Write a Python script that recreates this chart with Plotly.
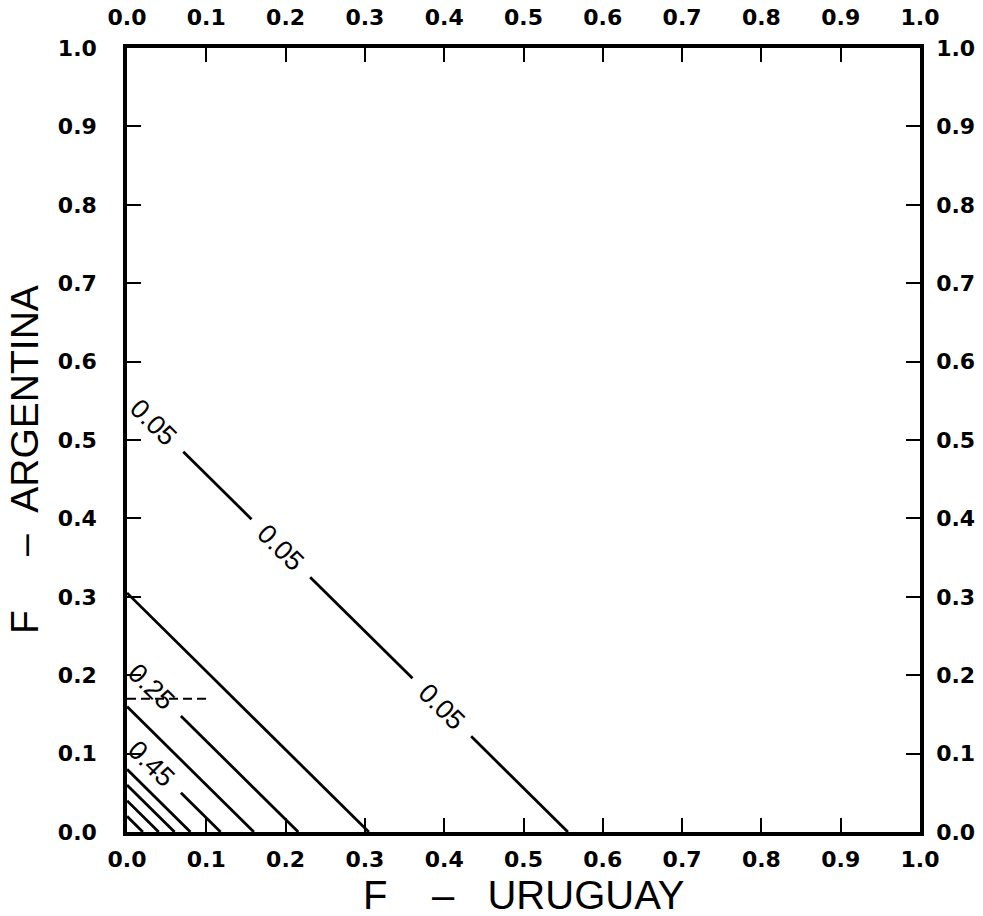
import plotly.graph_objects as go

# ---- data ----
levels = [0.05, 0.15, 0.25, 0.35, 0.45, 0.55, 0.65, 0.75, 0.85]
intercepts = [0.556, 0.305, 0.216, 0.160, 0.118, 0.080, 0.060, 0.040, 0.020]  # x+y = s for each contour
label_x = {0.05: [0.034, 0.194, 0.397], 0.25: [0.031], 0.45: [0.031]}  # label centres (x) along lines
label_text = {0.05: "0.05", 0.25: "0.25", 0.45: "0.45"}
dash_x = [0.0, 0.104]
dash_y = [0.17, 0.17]
tick_vals = [0.0, 0.1, 0.2, 0.3, 0.4, 0.5, 0.6, 0.7, 0.8, 0.9, 1.0]
tick_text = ["0.0", "0.1", "0.2", "0.3", "0.4", "0.5", "0.6", "0.7", "0.8", "0.9", "1.0"]
NB = "\u00a0"
x_title = "F" + NB * 4 + "\u2013" + NB * 3 + "URUGUAY"
y_title = "F" + NB * 5 + "\u2013" + NB * 2 + "ARGENTINA"

GAP = 0.037
LINE_W = 2.8

fig = go.Figure()

for lev, s in zip(levels, intercepts):
    cuts = sorted(label_x.get(lev, []))
    segs = []
    start = 0.0
    for c in cuts:
        a, b = c - GAP, c + GAP
        if a > start:
            segs.append((start, min(a, s)))
        start = max(start, b)
    if start < s:
        segs.append((start, s))
    xs, ys = [], []
    for a, b in segs:
        xs += [a, b, None]
        ys += [s - a, s - b, None]
    fig.add_trace(go.Scatter(x=xs, y=ys, mode="lines",
                             line=dict(color="black", width=LINE_W),
                             hoverinfo="skip", showlegend=False))
    for c in cuts:
        fig.add_annotation(x=c, y=s - c, text=label_text[lev], showarrow=False,
                           textangle=44.7, xanchor="center", yanchor="middle",
                           font=dict(family="Liberation Sans", size=27, color="black"))

fig.add_trace(go.Scatter(x=dash_x, y=dash_y, mode="lines",
                         line=dict(color="black", width=2, dash="9px,5px"),
                         hoverinfo="skip", showlegend=False))

# invisible trace for the mirrored axes
fig.add_trace(go.Scatter(x=[0, 1], y=[0, 1], xaxis="x2", yaxis="y2", mode="markers",
                         marker=dict(opacity=0), hoverinfo="skip", showlegend=False))

tickfont = dict(family="DejaVu Sans", size=22, color="black", weight="bold")
common = dict(range=[0, 1], tickvals=tick_vals, ticktext=tick_text, ticks="inside",
              ticklen=14, tickwidth=2, tickcolor="black", showline=True, linewidth=3.5,
              linecolor="black", showgrid=False, zeroline=False, tickfont=tickfont,
              fixedrange=True, automargin=False)

fig.update_layout(
    width=983, height=916,
    margin=dict(l=127, r=63, t=48, b=84),
    plot_bgcolor="white", paper_bgcolor="white",
    xaxis=dict(**common, side="bottom", ticklabelstandoff=5),
    yaxis=dict(**common, side="left", ticklabelstandoff=22),
    xaxis2=dict(**common, side="top", overlaying="x", anchor="y", ticklabelstandoff=10),
    yaxis2=dict(**common, side="right", overlaying="y", anchor="x", ticklabelstandoff=8),
)

fig.add_annotation(xref="paper", yref="paper", x=0.5, y=-0.0800, text=x_title,
                   showarrow=False, xanchor="center", yanchor="middle",
                   font=dict(family="Liberation Sans", size=40, color="black"))
fig.add_annotation(xref="paper", yref="paper", x=-0.1286, y=0.4745, text=y_title,
                   showarrow=False, xanchor="center", yanchor="middle", textangle=-90,
                   font=dict(family="Liberation Sans", size=39, color="black"))

fig.write_html("out.html", config={"displayModeBar": False},
               post_script="document.body.style.margin='0';document.body.style.overflow='hidden';")
